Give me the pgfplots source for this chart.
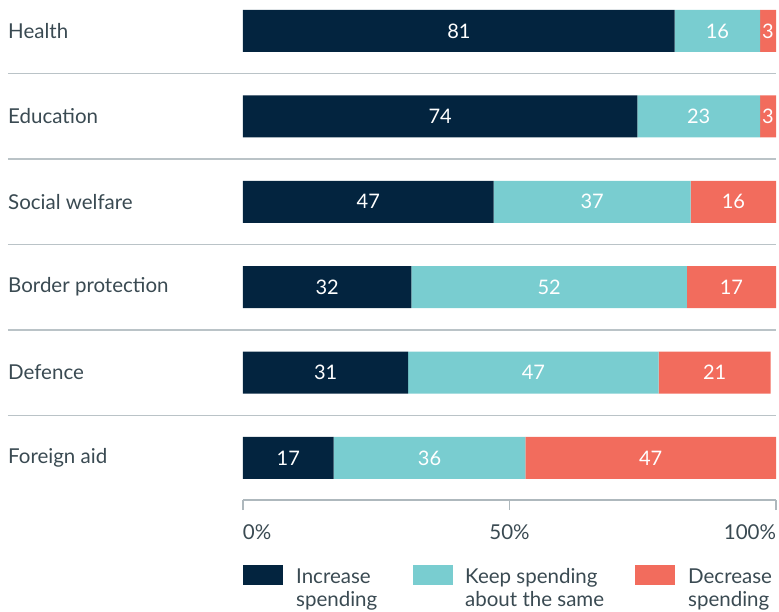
\documentclass[border=0pt]{standalone}
\usepackage{fontspec}
\setmainfont{Lato}
\usepackage{pgfplots}
\pgfplotsset{compat=1.18}
\definecolor{navy}{HTML}{03243F}
\definecolor{tealc}{HTML}{79CDD0}
\definecolor{salmon}{HTML}{F26C5D}
\definecolor{txt}{HTML}{3A4A52}
\definecolor{sepc}{HTML}{BAC3C7}
\definecolor{axisgray}{HTML}{AEB8BD}
\begin{document}
\begin{tikzpicture}
\useasboundingbox (0pt,0pt) rectangle (779pt,-612pt);
\begin{axis}[
  at={(243pt,-500pt)}, anchor=south west,
  scale only axis, width=533pt, height=500pt,
  xbar stacked, bar width=42pt,
  xmin=0, xmax=100, ymin=-0.492, ymax=5.363,
  clip=false,
  /pgf/number format/assume math mode=true,
  axis lines*=left,
  y axis line style={draw=none},
  ytick={0,1,2,3,4,5},
  yticklabels={Foreign aid,Defence,Border protection,Social welfare,Education,Health},
  ytick style={draw=none},
  yticklabel style={anchor=west, inner sep=0pt, xshift=-225pt, text=txt, font=\fontsize{20.5}{24}\selectfont},
  xtick={0,50,100},
  xticklabels={\makebox[0pt][l]{0\%},50\%,\makebox[0pt][r]{100\%}},
  tick align=outside, major tick length=10pt,
  x axis line style={axisgray, line width=1.2pt},
  xtick style={axisgray, line width=1.2pt},
  xticklabel style={anchor=north, inner sep=0pt, yshift=-14pt, text=txt, font=\fontsize{20.5}{24}\selectfont},
  point meta=explicit symbolic,
  nodes near coords,
  every node near coord/.append style={anchor=center, text=white, inner sep=0pt, font=\fontsize{20}{24}\selectfont},
  legend columns=3,
  legend style={at={(0,-0.13)}, anchor=north west, draw=none, fill=none, inner sep=0pt, column sep=0pt, nodes={inner sep=0pt}, font=\fontsize{20.5}{23}\selectfont, text=txt},
  legend image code/.code={\fill[#1] (0pt,0pt) rectangle (40pt,20pt);},
  legend cell align=left,
]
\addplot[fill=navy, draw=none] coordinates {(17,0) [17] (31,1) [31] (31.6,2) [32] (47,3) [47] (74,4) [74] (81,5) [81]};
\addlegendentry{\hspace*{13pt}\makebox[117pt][l]{\raisebox{1pt}[0pt][0pt]{\begin{tabular}[t]{@{}l@{}}Increase\\spending\end{tabular}}}}
\addplot[fill=tealc, draw=none] coordinates {(36,0) [36] (47,1) [47] (51.7,2) [52] (37,3) [37] (23,4) [23] (16,5) [16]};
\addlegendentry{\hspace*{12pt}\makebox[170pt][l]{\raisebox{1pt}[0pt][0pt]{\begin{tabular}[t]{@{}l@{}}Keep spending\\about the same\end{tabular}}}}
\addplot[fill=salmon, draw=none] coordinates {(47,0) [47] (21,1) [21] (16.7,2) [17] (16,3) [16] (3,4) [3] (3,5) [3]};
\addlegendentry{\hspace*{13pt}\raisebox{1pt}[0pt][0pt]{\begin{tabular}[t]{@{}l@{}}Decrease\\spending\end{tabular}}}
\pgfplotsinvokeforeach{0.5,1.5,2.5,3.5,4.5}{
  \draw[sepc, line width=1.5pt] (axis cs:-44.09,#1) -- (axis cs:100,#1);
}
\end{axis}
\end{tikzpicture}
\end{document}
